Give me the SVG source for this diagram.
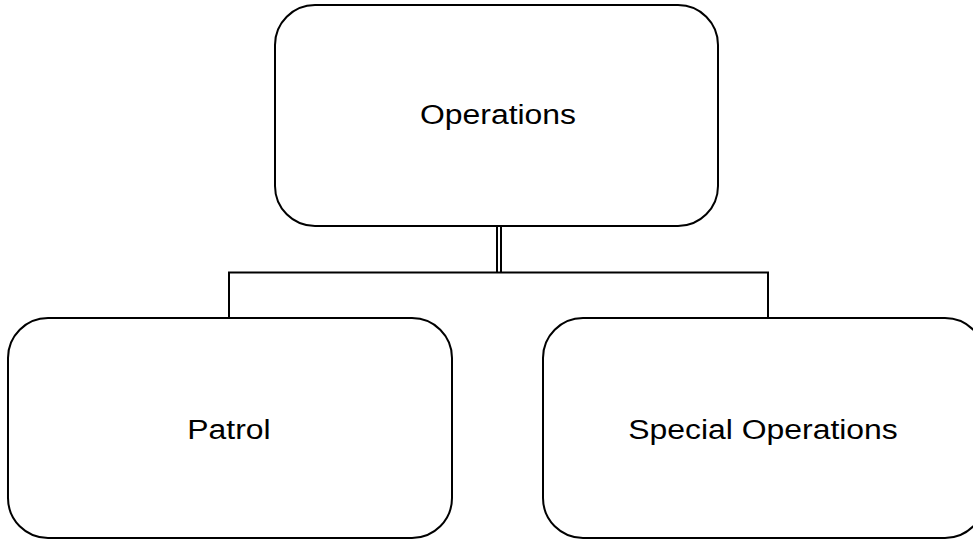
<svg xmlns="http://www.w3.org/2000/svg" width="973" height="539" viewBox="0 0 973 539">
  <style>
    .box { fill: #ffffff; stroke: #000000; stroke-width: 2; }
    .line { fill: none; stroke: #000000; stroke-width: 2; }
    .label { font-family: "Liberation Sans", Arial, sans-serif; font-size: 28px; fill: #000000; text-anchor: middle; }
  </style>
  <rect width="973" height="539" fill="#ffffff"/>
  <g id="connectors">
    <line class="line" x1="497" y1="226" x2="497" y2="272"/>
    <line class="line" x1="501" y1="226" x2="501" y2="272"/>
    <polyline class="line" points="229,318 229,272.5 768,272.5 768,318"/>
  </g>
  <g id="node-operations">
    <rect class="box" x="275" y="5" width="443" height="221" rx="40" ry="40"/>
    <text class="label" transform="translate(498,124) scale(1.14,1)">Operations</text>
  </g>
  <g id="node-patrol">
    <rect class="box" x="8" y="318" width="444" height="220" rx="40" ry="40"/>
    <text class="label" transform="translate(229,439) scale(1.14,1)">Patrol</text>
  </g>
  <g id="node-special-operations">
    <rect class="box" x="543" y="318" width="442" height="220" rx="40" ry="40"/>
    <text class="label" transform="translate(763,439) scale(1.14,1)">Special Operations</text>
  </g>
</svg>
